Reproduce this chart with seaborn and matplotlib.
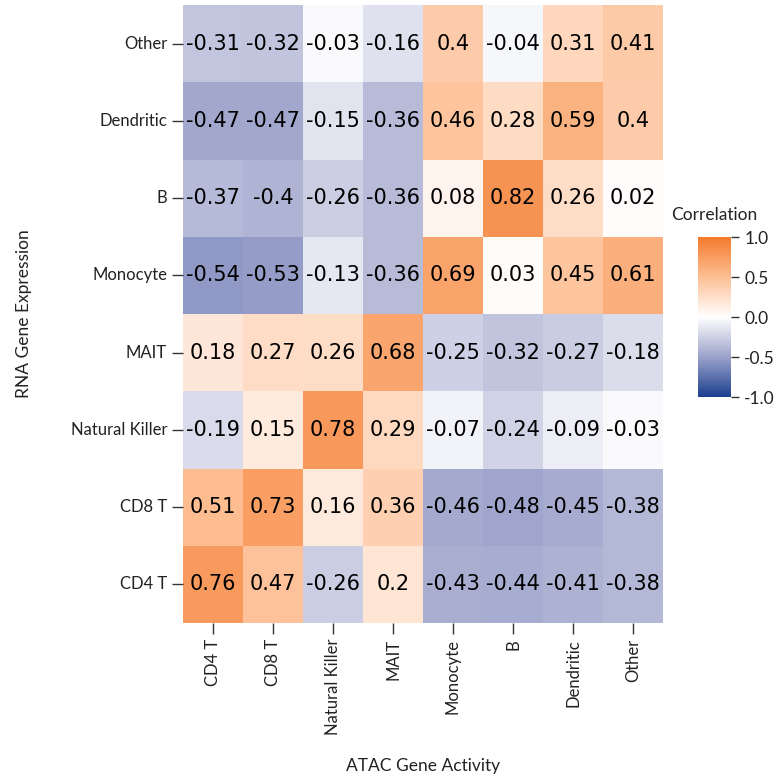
import numpy as np
import pandas as pd
import matplotlib
matplotlib.use("Agg")
import matplotlib.pyplot as plt
import seaborn as sns
from matplotlib.colors import LinearSegmentedColormap

rna_types = ["Other", "Dendritic", "B", "Monocyte", "MAIT", "Natural Killer", "CD8 T", "CD4 T"]
atac_types = ["CD4 T", "CD8 T", "Natural Killer", "MAIT", "Monocyte", "B", "Dendritic", "Other"]

corr_values = [
    [-0.31, -0.32, -0.03, -0.16, 0.40, -0.04, 0.31, 0.41],
    [-0.47, -0.47, -0.15, -0.36, 0.46, 0.28, 0.59, 0.40],
    [-0.37, -0.40, -0.26, -0.36, 0.08, 0.82, 0.26, 0.02],
    [-0.54, -0.53, -0.13, -0.36, 0.69, 0.03, 0.45, 0.61],
    [0.18, 0.27, 0.26, 0.68, -0.25, -0.32, -0.27, -0.18],
    [-0.19, 0.15, 0.78, 0.29, -0.07, -0.24, -0.09, -0.03],
    [0.51, 0.73, 0.16, 0.36, -0.46, -0.48, -0.45, -0.38],
    [0.76, 0.47, -0.26, 0.20, -0.43, -0.44, -0.41, -0.38],
]


def main():
    df = pd.DataFrame(corr_values, index=rna_types, columns=atac_types)

    cmap = LinearSegmentedColormap.from_list(
        "blue_orange",
        [(0.0, "#1c3f8f"), (0.25, "#9ca2ca"), (0.5, "#ffffff"), (0.75, "#fdbf94"), (1.0, "#f47a2c")],
    )

    label_font = ["Lato", "DejaVu Sans"]
    fig = plt.figure(figsize=(7.79, 7.81), dpi=100)
    ax = fig.add_axes([183 / 779, 1 - 623 / 781, 480 / 779, 618 / 781])
    cax = fig.add_axes([698 / 779, 1 - 397 / 781, 33 / 779, 160 / 781])

    sns.heatmap(
        df, ax=ax, cbar_ax=cax, cmap=cmap, vmin=-1, vmax=1,
        annot=True, fmt="g", annot_kws={"size": 15, "color": "black", "family": "DejaVu Sans"},
    )

    ax.tick_params(axis="both", length=8, width=1, color="#333333", labelsize=12)
    ax.set_xticklabels(atac_types, rotation=90, family=label_font, color="#222222")
    ax.set_yticklabels(rna_types, rotation=0, family=label_font, color="#222222")
    ax.set_xlabel("ATAC Gene Activity", family=label_font, fontsize=12.5, color="#222222", labelpad=16)
    ax.set_ylabel("RNA Gene Expression", family=label_font, fontsize=12.5, color="#222222", labelpad=28)

    cax.set_yticks([-1.0, -0.5, 0.0, 0.5, 1.0])
    cax.set_yticklabels(["-1.0", "-0.5", "0.0", "0.5", "1.0"], family=label_font)
    cax.tick_params(length=6, width=1, color="#333333", labelsize=12.5, labelcolor="#222222")
    cax.set_title("Correlation", family=label_font, fontsize=12.5, color="#222222", pad=12)

    fig.savefig("out.png", dpi=100)
    plt.close(fig)


if __name__ == "__main__":
    main()
